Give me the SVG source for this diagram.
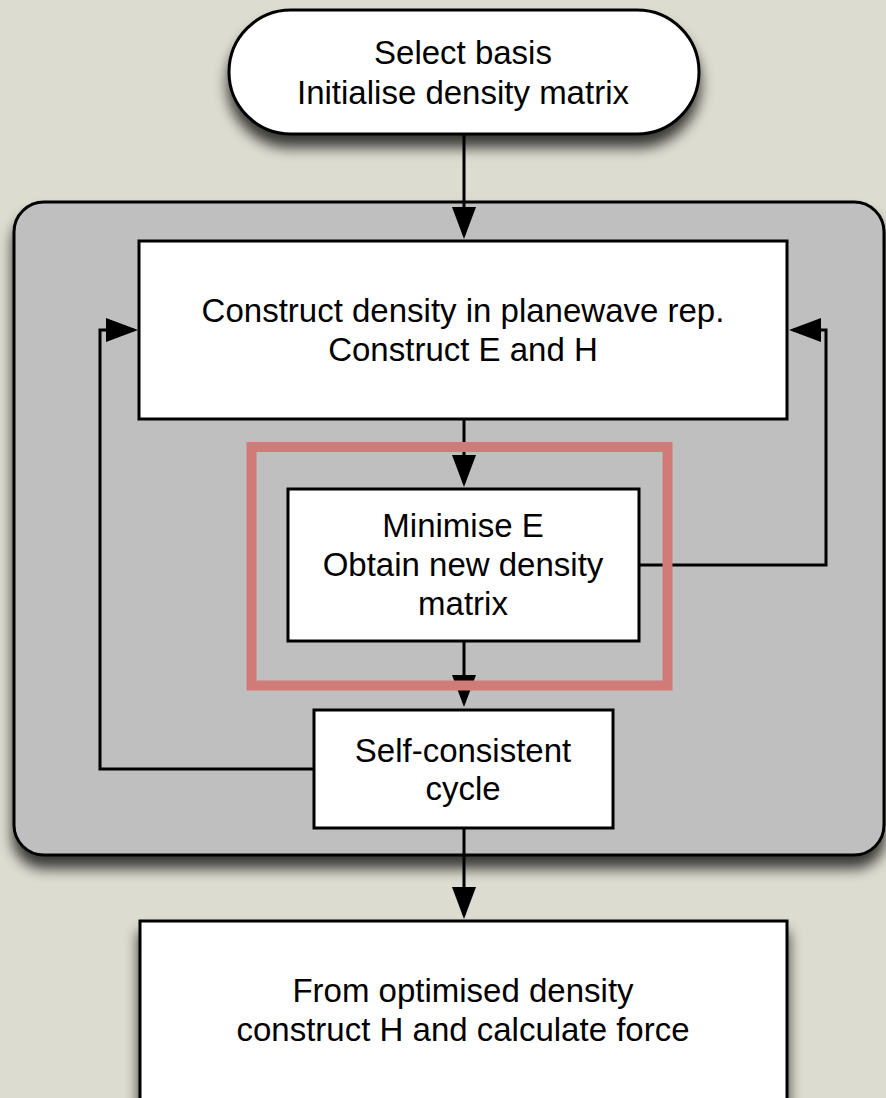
<svg xmlns="http://www.w3.org/2000/svg" width="886" height="1098" viewBox="0 0 886 1098">
<defs>
<filter id="shadow" x="-10%" y="-10%" width="120%" height="140%">
<feGaussianBlur in="SourceAlpha" stdDeviation="7"/>
<feOffset dy="12"/>
<feComponentTransfer><feFuncA type="linear" slope="0.75"/></feComponentTransfer>
<feMerge><feMergeNode/><feMergeNode in="SourceGraphic"/></feMerge>
</filter>
<marker id="arrow" markerUnits="userSpaceOnUse" markerWidth="32" markerHeight="24" refX="28" refY="12" orient="auto" viewBox="0 0 32 24">
<path d="M0,0 L32,12 L0,24 z" fill="#000"/>
</marker>
</defs>
<style>
.box{fill:#fff;stroke:#000;stroke-width:3}
.txt{font-family:"Liberation Sans",Arial,Helvetica,sans-serif;font-size:33px;fill:#000;text-anchor:middle}
.conn{fill:none;stroke:#000;stroke-width:3}
</style>
<rect x="0" y="0" width="886" height="1098" fill="#dcdcd0"/>
<g id="start">
<rect class="box" x="229" y="10" width="470" height="124" rx="62" ry="62" filter="url(#shadow)"/>
<text class="txt" x="463" y="64">Select basis</text>
<text class="txt" x="463" y="104">Initialise density matrix</text>
</g>
<g id="scf-group">
<rect x="14" y="202" width="870" height="653" rx="30" ry="30" fill="#bfbfbf" stroke="#000" stroke-width="3" filter="url(#shadow)"/>
</g>
<g id="construct">
<rect class="box" x="139" y="241" width="648" height="178"/>
<text class="txt" x="463" y="322">Construct density in planewave rep.</text>
<text class="txt" x="463" y="361">Construct E and H</text>
</g>
<g id="minimise">
<rect class="box" x="288" y="489" width="351" height="152"/>
<text class="txt" x="463" y="537">Minimise E</text>
<text class="txt" x="463" y="576">Obtain new density</text>
<text class="txt" x="463" y="615">matrix</text>
</g>
<g id="selfconsistent">
<rect class="box" x="314" y="710" width="299" height="118"/>
<text class="txt" x="463" y="762">Self-consistent</text>
<text class="txt" x="463" y="800">cycle</text>
</g>
<g id="force">
<rect class="box" x="140" y="921" width="647" height="200" filter="url(#shadow)"/>
<text class="txt" x="463" y="1002">From optimised density</text>
<text class="txt" x="463" y="1041">construct H and calculate force</text>
</g>
<g id="connectors">
<path class="conn" d="M464,135 V235" marker-end="url(#arrow)"/>
<path class="conn" d="M464,420 V483" marker-end="url(#arrow)"/>
<path class="conn" d="M464,642 V703" marker-end="url(#arrow)"/>
<path class="conn" d="M464,829 V915" marker-end="url(#arrow)"/>
<path class="conn" d="M314,769 H100 V330 H134" marker-end="url(#arrow)"/>
<path class="conn" d="M639,565 H826 V330 H793" marker-end="url(#arrow)"/>
</g>
<g id="highlight">
<rect x="251.5" y="447" width="416" height="238.5" fill="none" stroke="#d17b78" stroke-width="10"/>
</g>
</svg>
